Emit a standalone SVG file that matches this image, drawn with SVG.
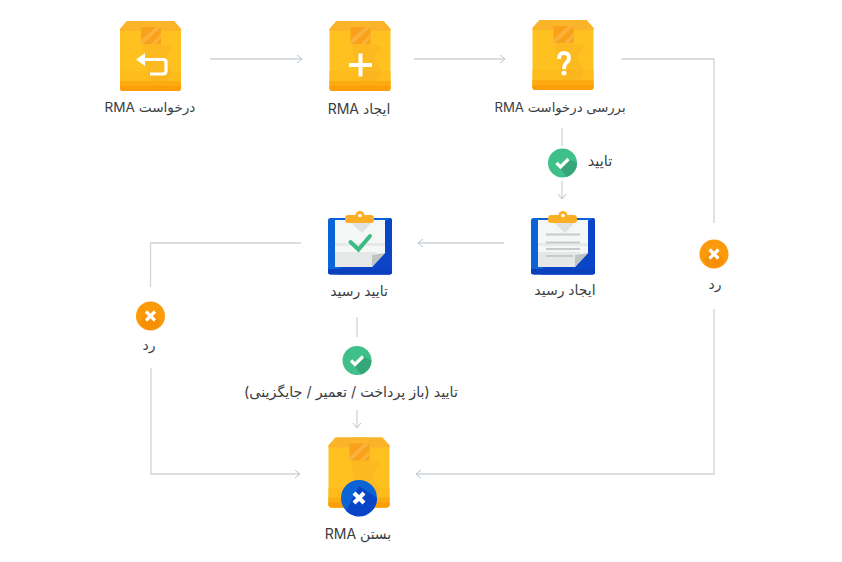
<svg xmlns="http://www.w3.org/2000/svg" width="842" height="562" viewBox="0 0 842 562">
<style>
text{font-family:"Inter","DejaVu Sans",sans-serif;font-size:14px;fill:#3a3d42;text-anchor:middle;direction:rtl}
.c{fill:none;stroke:#cdd5da;stroke-width:1.3}
.i{fill:none;stroke:#fff;stroke-width:3.200}
</style>
<defs>
<marker id="a" markerWidth="10" markerHeight="12" refX="7" refY="5" orient="auto" markerUnits="userSpaceOnUse"><path d="M2 1L7 5L2 9" fill="none" stroke="#bcc4c9" stroke-width="1"/></marker>
<g id="box">
<path d="M7 0H54L61 8V67Q61 70 58 70H3Q0 70 0 67V8Z" fill="#ffc11f"/>
<path d="M7 0H54L61 8V10H0V8Z" fill="#fbb42a"/>
<path d="M0 50H61V67Q61 70 58 70H3Q0 70 0 67Z" fill="#fdbb1c"/>
<path d="M0 60H61V67Q61 70 58 70H3Q0 70 0 67Z" fill="#fcab10"/>
<path d="M0 65H61V67Q61 70 58 70H3Q0 70 0 67Z" fill="#fb9e0a"/>
<path d="M38 23L53 25L44 38L52 50L47 60H30L22 23Z" fill="#f9a825" opacity=".3"/>
<path d="M24 0H38L41 6H21Z" fill="#fbb62a"/>
<path d="M21 6H41V22Q41 23 40 23H22Q21 23 21 22Z" fill="#f9a11b"/>
<path d="M21 19L36 6H41L23 23H21ZM31 23L41 13V17L36 23Z" fill="#fbb23c"/>
</g>
<g id="clip">
<rect x="0" y="7" width="64" height="56.500" rx="2.500" fill="#0b64d6"/>
<path d="M62 7Q64 7 64 10V61Q64 63.500 61 63.500H10L25 12H55Z" fill="#0a45c8"/>
<path d="M0 58H64V61Q64 63.500 61 63.500H3Q0 63.500 0 61Z" fill="#0b40bc"/>
<path d="M7 9H57V42L44 56H7Z" fill="#f5f6f6"/>
<path d="M7 41H49L44 56H7Z" fill="#e6e8e8"/>
<path d="M7 32H57V35H7Z" fill="#e8eaea"/>
<path d="M20 9H46L34 22Z" fill="#dfe2e2"/>
<path d="M57 42L44 56V44Z" fill="#bfc3c3"/>
<path d="M20 4H43Q46 4 46 8V9Q46 12 43 12H20Q17 12 17 9V8Q17 4 20 4Z" fill="#fcae24"/>
<circle cx="32" cy="4.500" r="4.500" fill="#fcae24"/>
<circle cx="32" cy="4.500" r="1.800" fill="#fff"/>
</g>
<g id="ok"><circle r="14.500" fill="#3fc08a"/><path d="M-5 2L-2 5L6 -4L14.500 0A14.500 14.500 0 0 1 4 14Z" fill="#34a678"/><path d="M-6 0L-2 4L6 -4" class="i"/></g>
<g id="no"><circle r="14.500" fill="#fb9a0a"/><path d="M-10 5L0 -4L10 5L8 11L0 14L-8 11Z" fill="#f68e06"/><path d="M-4.500 -4.500L4.500 4.500M4.500 -4.500L-4.500 4.500" class="i"/></g>
</defs>
<g id="connectors">
<path class="c" d="M210 59H302" marker-end="url(#a)"/>
<path class="c" d="M414 59H505" marker-end="url(#a)"/>
<path class="c" d="M621 59H714V223"/>
<path class="c" d="M714 309V474H416" marker-end="url(#a)"/>
<path class="c" d="M562 128V146"/>
<path class="c" d="M562 181V199" marker-end="url(#a)"/>
<path class="c" d="M504 243H418" marker-end="url(#a)"/>
<path class="c" d="M301 243H150.500V287"/>
<path class="c" d="M151 368V474H300" marker-end="url(#a)"/>
<path class="c" d="M357 317V337"/>
<path class="c" d="M357 410V428" marker-end="url(#a)"/>
</g>
<g id="n1"><use href="#box" x="120" y="21"/><path d="M142 59.500H163Q166 59.500 166 62.500V71Q166 74 163 74H150" class="i"/><path d="M145 53L136 59.500L145 66Z" fill="#fff"/><text x="150" y="112" style="font-size:13.600px">درخواست RMA</text></g>
<g id="n2"><use href="#box" x="329.500" y="21"/><path d="M349 65H372M360.500 53.500V76.500" fill="none" stroke="#fff" stroke-width="4"/><text x="359" y="114">ایجاد RMA</text></g>
<g id="n3"><use href="#box" x="532.500" y="20"/><path d="M559 59Q559 53 564 53Q569 53 569 58Q569 61 566 63Q564 65 564 69" fill="none" stroke="#fff" stroke-width="3.800"/><circle cx="564" cy="73" r="2.500" fill="#fff"/><text x="560" y="112" style="font-size:13.200px">بررسی درخواست RMA</text></g>
<g id="n4"><use href="#ok" x="562.500" y="163"/><text x="600" y="166" style="font-size:14.500px">تایید</text></g>
<g id="n5"><use href="#clip" x="531" y="211"/><path d="M546 234.500H580M546 242.500H580M546 249H580M546 256H573" stroke="#c6cccc" stroke-width="2" fill="none"/><text x="565" y="295">ایجاد رسید</text></g>
<g id="n6"><use href="#clip" x="328" y="211"/><path d="M350.500 242L358.500 249.500L370 236" fill="none" stroke="#3dbb85" stroke-width="4" stroke-linecap="round"/><text x="359" y="296">تایید رسید</text></g>
<g id="n7"><use href="#no" x="714" y="254"/><text x="715" y="289">رد</text></g>
<g id="n8"><use href="#no" x="150.500" y="316"/><text x="149" y="350">رد</text></g>
<g id="n9"><use href="#ok" x="357" y="360.500"/><text x="351" y="397" style="font-size:14.300px">تایید (باز پرداخت / تعمیر / جایگزینی)</text></g>
<g id="n10"><use href="#box" x="328.500" y="437.500"/><circle cx="359" cy="498" r="18" fill="#0b64d6"/><path d="M346 511A18 18 0 0 0 377 498L359 486Z" fill="#0a45c8"/><path d="M354 493L364 503M364 493L354 503" fill="none" stroke="#fff" stroke-width="4.200"/><text x="358" y="539">بستن RMA</text></g>
</svg>
